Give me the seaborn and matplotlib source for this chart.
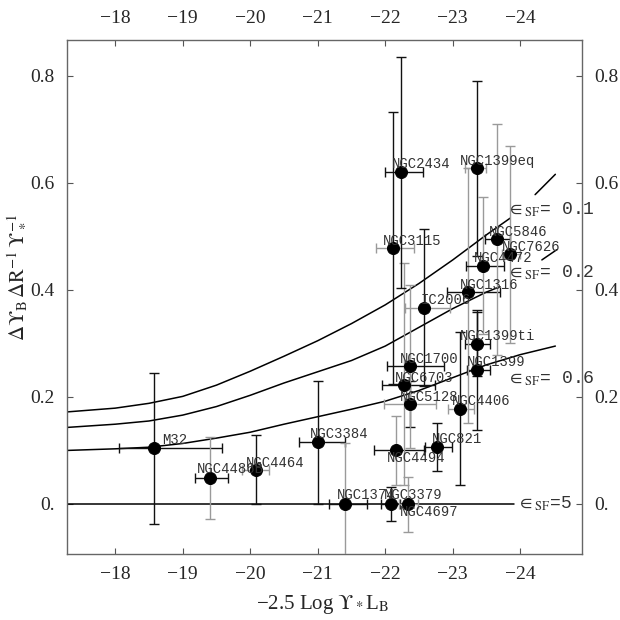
import numpy as np
import pandas as pd
import seaborn as sns
import matplotlib
matplotlib.use('Agg')
import matplotlib.pyplot as plt

# galaxies: magnitude, value, bar ends, bar colours, label anchor
names = ['M32', 'NGC4486B', 'NGC4464', 'NGC3384', 'NGC1374', 'NGC3379', 'NGC4697',
         'NGC4494', 'NGC821', 'NGC4406', 'NGC5128', 'NGC6703', 'NGC1700', 'NGC1399',
         'NGC1399ti', 'IC2006', 'NGC1316', 'NGC4472', 'NGC5846', 'NGC7626', 'NGC3115',
         'NGC2434', 'NGC1399eq']
mag = [-18.57, -19.40, -20.08, -21.01, -21.41, -22.09, -22.34,
       -22.16, -22.76, -23.11, -22.36, -22.28, -22.37, -23.36,
       -23.36, -22.58, -23.23, -23.45, -23.66, -23.85, -22.11,
       -22.24, -23.36]
val = [0.104, 0.048, 0.064, 0.115, 0.0, 0.0, 0.0,
       0.100, 0.107, 0.178, 0.187, 0.222, 0.257, 0.250,
       0.299, 0.367, 0.396, 0.445, 0.495, 0.467, 0.478,
       0.620, 0.627]
mag_lo = [-18.06, -19.18, -19.88, -20.73, -21.16, -21.93, -22.20,
          -21.83, -22.59, -22.93, -21.98, -21.95, -22.03, -23.21,
          -23.18, -22.30, -22.91, -23.20, -23.48, -23.73, -21.87,
          -22.00, -23.18]
mag_hi = [-19.58, -19.67, -20.28, -21.41, -21.73, -22.22, -22.49,
          -22.58, -22.99, -23.31, -22.75, -22.74, -22.87, -23.55,
          -23.55, -22.96, -23.70, -23.76, -23.85, -24.00, -22.42,
          -22.56, -23.50]
val_lo = [-0.037, -0.029, 0.0, 0.0, -0.114, -0.032, -0.052,
          0.035, 0.062, 0.036, 0.144, 0.036, 0.104, 0.138,
          0.239, 0.221, 0.151, 0.317, 0.279, 0.300, 0.224,
          0.403, 0.464]
val_hi = [0.245, 0.125, 0.129, 0.230, 0.114, 0.032, 0.051,
          0.164, 0.151, 0.322, 0.230, 0.450, 0.409, 0.362,
          0.359, 0.513, 0.627, 0.573, 0.710, 0.668, 0.732,
          0.835, 0.790]
xbar_gray = [0, 0, 1, 0, 0, 0, 1,
             0, 0, 1, 1, 0, 0, 0,
             0, 1, 0, 0, 0, 1, 1,
             0, 1]
ybar_gray = [0, 1, 0, 0, 1, 0, 1,
             1, 0, 0, 0, 1, 1, 0,
             0, 0, 1, 1, 1, 1, 0,
             0, 0]
label_x = [-18.70, -19.21, -19.94, -20.88, -21.28, -21.98, -22.21,
           -22.03, -22.69, -22.99, -22.22, -22.15, -22.22, -23.21,
           -23.10, -22.52, -23.10, -23.32, -23.53, -23.73, -21.97,
           -22.10, -23.10]
label_y = [0.120, 0.065, 0.077, 0.131, 0.016, 0.016, -0.016,
           0.085, 0.121, 0.193, 0.200, 0.236, 0.270, 0.265,
           0.314, 0.381, 0.409, 0.460, 0.509, 0.481, 0.492,
           0.635, 0.640]

# model curves
eps01_mag = [-17.29, -18.0, -18.5, -19.0, -19.5, -20.0, -20.5, -21.0, -21.5,
             -22.0, -22.5, -23.0, -23.5, -23.85]
eps01_val = [0.172, 0.179, 0.188, 0.201, 0.222, 0.248, 0.276, 0.305, 0.337,
             0.372, 0.412, 0.456, 0.503, 0.534]
eps01_tail_mag = [-24.22, -24.52]
eps01_tail_val = [0.578, 0.616]
eps02_mag = [-17.29, -18.0, -18.5, -19.0, -19.5, -20.0, -20.5, -21.0, -21.5,
             -22.0, -22.5, -23.0, -23.5, -23.70]
eps02_val = [0.143, 0.149, 0.155, 0.166, 0.182, 0.203, 0.226, 0.247, 0.268,
             0.295, 0.330, 0.365, 0.396, 0.406]
eps02_tail_mag = [-24.32, -24.54]
eps02_tail_val = [0.456, 0.475]
eps06_mag = [-17.29, -18.0, -18.5, -19.0, -19.5, -20.0, -20.5, -21.0, -21.5,
             -22.0, -22.5, -23.0, -23.5, -24.0, -24.52]
eps06_val = [0.100, 0.103, 0.106, 0.113, 0.123, 0.134, 0.149, 0.163, 0.177,
             0.192, 0.212, 0.236, 0.260, 0.279, 0.295]
eps5_mag = [-17.29, -23.90]
eps5_val = [0.0, 0.0]

eps_text = ['= 0.1', '= 0.2', '= 0.6', '=5']
eps_x = [-23.80, -23.80, -23.80, -23.95]
eps_y = [0.550, 0.432, 0.233, 0.0]

xticks = [-18, -19, -20, -21, -22, -23, -24]
xticklabels = ['\u221218', '\u221219', '\u221220', '\u221221', '\u221222', '\u221223', '\u221224']
yticks = [0.0, 0.2, 0.4, 0.6, 0.8]
yticklabels = ['0.', '0.2', '0.4', '0.6', '0.8']

df = pd.DataFrame({'name': names, 'mag': mag, 'val': val,
                   'mag_lo': mag_lo, 'mag_hi': mag_hi,
                   'val_lo': val_lo, 'val_hi': val_hi,
                   'xg': xbar_gray, 'yg': ybar_gray})

sns.set_theme(style='ticks')
plt.rcParams['font.family'] = ['Liberation Serif', 'DejaVu Serif']
plt.rcParams['mathtext.fontset'] = 'stix'

fig = plt.figure(figsize=(6.2, 6.2), dpi=100)
ax = fig.add_axes([0.1085, 0.1065, 0.8297, 0.829])

# curves
for mx, my in [(eps01_mag, eps01_val), (eps01_tail_mag, eps01_tail_val),
               (eps02_mag, eps02_val), (eps02_tail_mag, eps02_tail_val),
               (eps06_mag, eps06_val), (eps5_mag, eps5_val)]:
    sns.lineplot(x=mx, y=my, sort=False, estimator=None, color='black', lw=1.1, ax=ax)

# error bars
black = '#111111'
gray = '#9a9a9a'
for _, r in df.iterrows():
    ax.errorbar(r['mag'], r['val'],
                xerr=[[r['mag'] - r['mag_hi']], [r['mag_lo'] - r['mag']]],
                fmt='none', ecolor=gray if r['xg'] else black, elinewidth=1.0,
                capsize=3.5, capthick=1.0, zorder=3)
    ax.errorbar(r['mag'], r['val'],
                yerr=[[r['val'] - r['val_lo']], [r['val_hi'] - r['val']]],
                fmt='none', ecolor=gray if r['yg'] else black, elinewidth=1.0,
                capsize=3.5, capthick=1.0, zorder=3)

sns.scatterplot(data=df, x='mag', y='val', color='black', edgecolor='black',
                s=75, zorder=5, ax=ax, legend=False)

for n, lx, ly in zip(names, label_x, label_y):
    ax.text(lx, ly, n, family='Liberation Mono', fontsize=10, color='#333333',
            ha='left', va='center', zorder=6)

for t, ex, ey in zip(eps_text, eps_x, eps_y):
    ax.text(ex, ey, r'$\in_{\mathrm{SF}}$' + t, family='Liberation Mono',
            fontsize=13, color='#333333', ha='left', va='center', zorder=6)

ax.set_xlim(-17.29, -24.91)
ax.set_ylim(-0.0935, 0.867)
ax.set_xticks(xticks)
ax.set_xticklabels(xticklabels)
ax.set_yticks(yticks)
ax.set_yticklabels(yticklabels)
ax.tick_params(direction='in', length=4, width=0.8, color='#555555',
               top=True, right=True, labeltop=True, labelright=True,
               labelsize=14, pad=9)
for s in ax.spines.values():
    s.set_color('#666666')
    s.set_linewidth(1.0)

ups = '\\mathrm{\u03d2}'
ax.set_xlabel('\u22122.5 Log $' + ups + '_*$L$_{\\mathrm{B}}$', fontsize=15)
ax.set_ylabel('$\\Delta' + ups + '_{\\mathrm{B}}\\,\\Delta\\mathrm{R}^{-1}\\,' + ups + '_*^{-1}$',
              fontsize=15)
ax.xaxis.set_label_coords(0.497, -0.075)
ax.yaxis.set_label_coords(-0.078, 0.537)

fig.savefig('out.png', dpi=100)
